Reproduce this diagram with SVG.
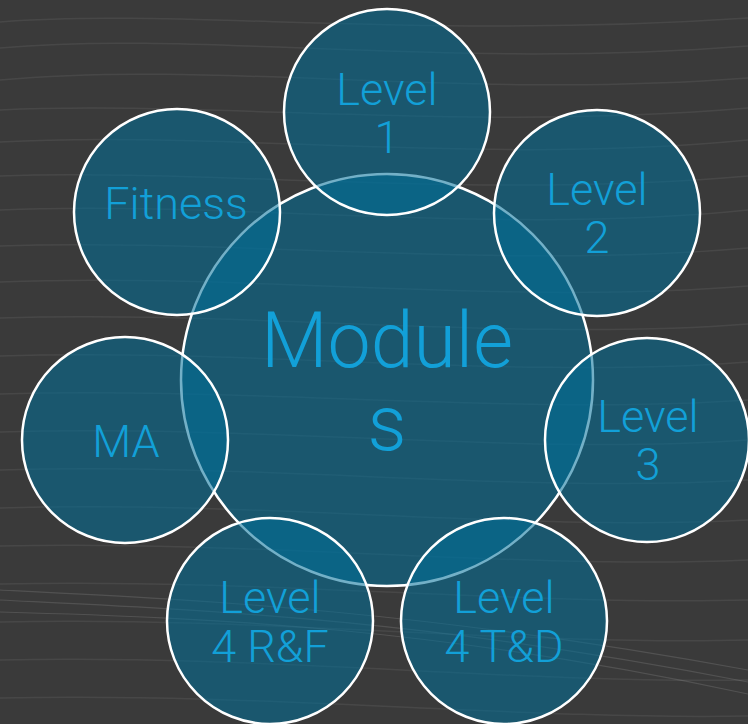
<svg xmlns="http://www.w3.org/2000/svg" width="748" height="724" viewBox="0 0 748 724">
<style>
.bg{fill:#3a3a3a}
.w{fill:none;stroke:#ffffff;stroke-opacity:0.07;stroke-width:1.5}
.w2{fill:none;stroke:#ffffff;stroke-opacity:0.12;stroke-width:1.2}
.core{fill:#006f99;fill-opacity:0.55;stroke:#ffffff;stroke-width:2.5}
.sat{fill:#006f99;fill-opacity:0.55;stroke:#ffffff;stroke-width:2.5}
text{font-family:"Helvetica Neue",Roboto,"Liberation Sans",sans-serif;font-weight:300;fill:#12a0d8;text-anchor:middle}
.t{font-size:45px}
.big{font-size:77px}
</style>
<rect class="bg" x="0" y="0" width="748" height="724"/>
<g id="background-waves">
<path class="w" d="M0,22 C180,8 420,40 748,18"/>
<path class="w" d="M0,48 C200,30 440,70 748,46"/>
<path class="w" d="M0,80 C220,60 460,100 748,78"/>
<path class="w" d="M0,110 C200,100 470,132 748,108"/>
<path class="w" d="M0,142 C220,130 480,166 748,140"/>
<path class="w" d="M0,176 C200,168 480,200 748,176"/>
<path class="w" d="M0,210 C220,200 500,236 748,210"/>
<path class="w" d="M0,246 C220,238 500,270 748,248"/>
<path class="w" d="M0,282 C240,272 500,306 748,286"/>
<path class="w" d="M0,318 C240,310 520,342 748,324"/>
<path class="w" d="M0,356 C240,348 520,380 748,362"/>
<path class="w" d="M0,394 C240,386 520,416 748,400"/>
<path class="w" d="M0,432 C260,424 520,456 748,440"/>
<path class="w" d="M0,470 C260,462 520,494 748,480"/>
<path class="w" d="M0,508 C260,500 520,532 748,520"/>
<path class="w" d="M0,546 C260,540 520,570 748,560"/>
<path class="w" d="M0,584 C260,578 520,606 748,600"/>
<path class="w" d="M0,622 C260,616 520,646 748,640"/>
<path class="w" d="M0,660 C260,654 520,684 748,680"/>
<path class="w" d="M0,698 C260,692 520,720 748,716"/>
<path class="w2" d="M0,590 C200,600 420,610 748,670"/>
<path class="w2" d="M0,600 C200,610 420,618 748,682"/>
<path class="w2" d="M0,612 C220,618 440,628 748,694"/>
</g>
<g id="modules">
<circle class="core" cx="387" cy="380" r="206"/>
</g>
<g id="level-1">
<circle class="sat" cx="387" cy="112" r="103"/>
<text class="t" x="387" y="105">Level</text>
<text class="t" x="387" y="153">1</text>
</g>
<g id="level-2">
<circle class="sat" cx="597" cy="213" r="103"/>
<text class="t" x="597" y="205">Level</text>
<text class="t" x="597" y="253">2</text>
</g>
<g id="level-3">
<circle class="sat" cx="647" cy="440" r="102"/>
<text class="t" x="648" y="432">Level</text>
<text class="t" x="648" y="480">3</text>
</g>
<g id="level-4-td">
<circle class="sat" cx="504" cy="621" r="103"/>
<text class="t" x="504" y="613">Level</text>
<text class="t" x="504" y="662">4 T&amp;D</text>
</g>
<g id="level-4-rf">
<circle class="sat" cx="270" cy="621" r="103"/>
<text class="t" x="270" y="613">Level</text>
<text class="t" x="270" y="662">4 R&amp;F</text>
</g>
<g id="ma">
<circle class="sat" cx="125" cy="440" r="103"/>
<text class="t" x="126" y="457">MA</text>
</g>
<g id="fitness">
<circle class="sat" cx="177" cy="212" r="103"/>
<text class="t" x="176" y="219">Fitness</text>
</g>
<g id="modules-label">
<text class="big" x="387" y="367">Module</text>
<text class="big" x="387" y="450">s</text>
</g>
<g id="connectors"/>
</svg>
